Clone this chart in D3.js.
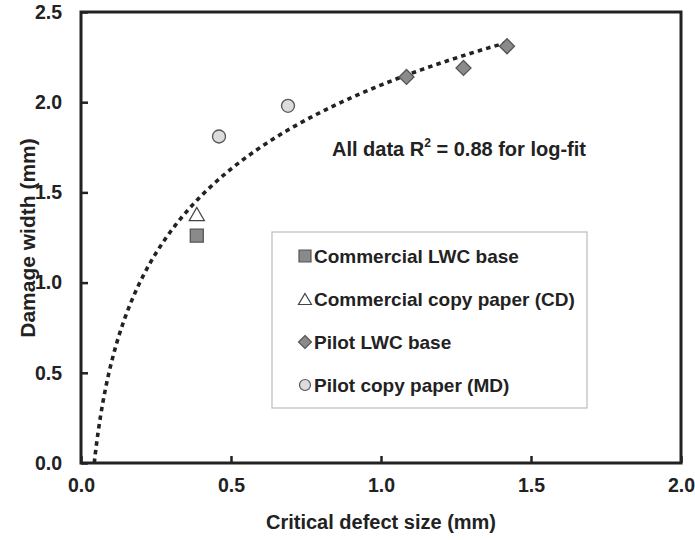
<!DOCTYPE html>
<html>
<head>
<meta charset="utf-8">
<script src="https://cdn.jsdelivr.net/npm/d3@7"></script>
<style>
  html, body { margin: 0; padding: 0; background: #fff; }
  svg { display: block; font-family: "Liberation Sans", Arial, sans-serif; font-weight: bold; }
</style>
</head>
<body>
<svg id="chart" width="695" height="540"></svg>
<script>
// Measured samples (critical defect size vs. damage width, both in mm)
const commercialLwcX = [0.386];
const commercialLwcY = [1.26];
const commercialCopyX = [0.386];
const commercialCopyY = [1.38];
const pilotLwcX = [1.085, 1.275, 1.42];
const pilotLwcY = [2.14, 2.19, 2.31];
const pilotCopyX = [0.46, 0.69];
const pilotCopyY = [1.81, 1.98];

const seriesNames = ["Commercial LWC base", "Commercial copy paper (CD)", "Pilot LWC base", "Pilot copy paper (MD)"];
const xTicks = [0.0, 0.5, 1.0, 1.5, 2.0];
const yTicks = [0.0, 0.5, 1.0, 1.5, 2.0, 2.5];

const svg = d3.select("#chart");
const plotLeft = 81, plotRight = 681, plotTop = 12, plotBottom = 463;

const x = d3.scaleLinear().domain([0, 2]).range([plotLeft, plotRight]);
const y = d3.scaleLinear().domain([0, 2.5]).range([plotBottom, plotTop]);

const fmt = d3.format(".1f");

// Axes: ticks point inward, labels outside
const yAxis = svg.append("g").attr("transform", `translate(${plotLeft},0)`)
  .call(d3.axisLeft(y).tickValues(yTicks).tickFormat(fmt).tickSizeInner(-7).tickSizeOuter(0).tickPadding(19));
const xAxis = svg.append("g").attr("transform", `translate(0,${plotBottom})`)
  .call(d3.axisBottom(x).tickValues(xTicks).tickFormat(fmt).tickSizeInner(-7).tickSizeOuter(0).tickPadding(15));
[yAxis, xAxis].forEach(g => {
  g.select(".domain").remove();
  g.selectAll("line").attr("stroke", "#222").attr("stroke-width", 2.5);
  g.selectAll("text").attr("fill", "#222").attr("font-size", 19.5).attr("font-family", null).attr("font-weight", "bold");
});

// Plot frame
svg.append("rect")
  .attr("x", plotLeft).attr("y", plotTop)
  .attr("width", plotRight - plotLeft).attr("height", plotBottom - plotTop)
  .attr("fill", "none").attr("stroke", "#222").attr("stroke-width", 3);

// Axis titles
svg.append("text")
  .attr("x", 381).attr("y", 529)
  .attr("text-anchor", "middle").attr("font-size", 20).attr("fill", "#222")
  .text("Critical defect size (mm)");
svg.append("text")
  .attr("transform", `translate(35,238) rotate(-90)`)
  .attr("text-anchor", "middle").attr("font-size", 21).attr("fill", "#222")
  .text("Damage width (mm)");

// Logarithmic least-squares fit over all samples: y = a ln(x) + b
const allX = [...commercialLwcX, ...commercialCopyX, ...pilotLwcX, ...pilotCopyX];
const allY = [...commercialLwcY, ...commercialCopyY, ...pilotLwcY, ...pilotCopyY];
const lx = allX.map(Math.log);
const mx = d3.mean(lx), my = d3.mean(allY);
const sxy = d3.sum(lx, (v, i) => (v - mx) * (allY[i] - my));
const sxx = d3.sum(lx, v => (v - mx) ** 2);
const a = sxy / sxx, b = my - a * mx;
const x0 = Math.exp(-b / a), x1 = d3.max(allX);
const fitPts = d3.range(0, 201).map(i => {
  const t = Math.exp(Math.log(x0) + (Math.log(x1) - Math.log(x0)) * i / 200);
  return [t, a * Math.log(t) + b];
});
svg.append("path")
  .datum(fitPts)
  .attr("d", d3.line().x(d => x(d[0])).y(d => y(d[1])))
  .attr("fill", "none").attr("stroke", "#222").attr("stroke-width", 3.6)
  .attr("stroke-dasharray", "4.5,4.2");

// Marker shapes
const shapes = {
  square: s => `M${-s / 2},${-s / 2}h${s}v${s}h${-s}Z`,
  triangle: s => `M0,${-s / 2}L${s / 2 + 1},${s / 2}L${-s / 2 - 1},${s / 2}Z`,
  diamond: s => `M0,${-s / 2 - 1}L${s / 2 + 1},0L0,${s / 2 + 1}L${-s / 2 - 1},0Z`,
  circle: s => d3.arc()({ innerRadius: 0, outerRadius: s / 2, startAngle: 0, endAngle: 2 * Math.PI })
};
const styles = [
  { shape: "square", fill: "#8a8a8a", stroke: "#555", xs: commercialLwcX, ys: commercialLwcY },
  { shape: "triangle", fill: "#fff", stroke: "#444", xs: commercialCopyX, ys: commercialCopyY },
  { shape: "diamond", fill: "#8a8a8a", stroke: "#555", xs: pilotLwcX, ys: pilotLwcY },
  { shape: "circle", fill: "#dcdcdc", stroke: "#555", xs: pilotCopyX, ys: pilotCopyY }
];

styles.forEach(st => {
  svg.append("g").selectAll("path")
    .data(st.xs.map((v, i) => [v, st.ys[i]]))
    .join("path")
    .attr("transform", d => `translate(${x(d[0])},${y(d[1])})`)
    .attr("d", shapes[st.shape](13))
    .attr("fill", st.fill).attr("stroke", st.stroke).attr("stroke-width", 1.3);
});

// Fit annotation
const note = svg.append("text").attr("x", 332).attr("y", 156).attr("font-size", 20).attr("fill", "#222");
note.append("tspan").text("All data R");
note.append("tspan").attr("font-size", 12).attr("dy", -9).text("2");
note.append("tspan").attr("dy", 9).text(" = 0.88 for log-fit");

// Legend
const lg = svg.append("g");
lg.append("rect").attr("x", 272).attr("y", 232).attr("width", 315).attr("height", 176)
  .attr("fill", "#fff").attr("stroke", "#bbb").attr("stroke-width", 1.2);
const legendRowY = d3.scalePoint().domain(seriesNames).range([256, 385]);
seriesNames.forEach((name, i) => {
  const cy = legendRowY(name);
  lg.append("path")
    .attr("transform", `translate(305,${cy})`)
    .attr("d", shapes[styles[i].shape](i === 0 ? 12 : 11))
    .attr("fill", styles[i].fill).attr("stroke", styles[i].stroke).attr("stroke-width", 1.2);
  lg.append("text").attr("x", 314).attr("y", cy + 7).attr("font-size", 19).attr("fill", "#222").text(name);
});
</script>
</body>
</html>
